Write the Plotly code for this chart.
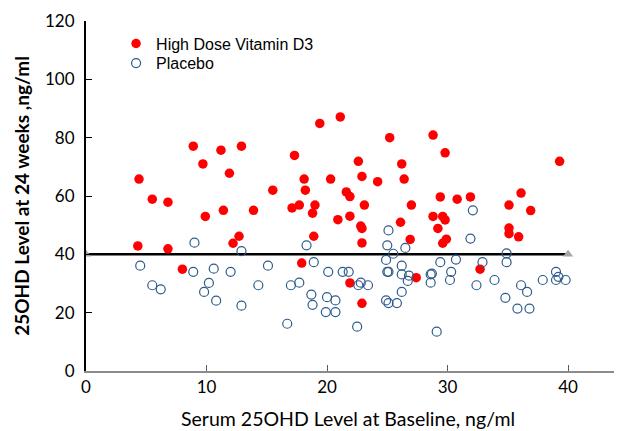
import plotly.graph_objects as go

# High Dose Vitamin D3 group: baseline (x) and 24-week (y) 25OHD levels
vd_x = [8.9, 11.2, 12.9, 9.7, 11.9, 4.4, 5.5, 6.8, 9.9, 11.4, 13.9, 12.7, 12.2, 4.3, 6.8, 8.0,
        19.4, 21.1, 25.2, 17.3, 22.6, 26.2, 18.1, 20.3, 22.9, 24.2, 26.4, 15.5, 18.2, 21.6, 21.9,
        17.1, 17.7, 19.0, 18.8, 23.1, 27.0, 20.9, 21.9, 22.8, 22.9, 26.1, 26.9, 18.9, 22.9, 17.9,
        21.9, 22.9, 28.8, 29.8, 39.3, 29.4, 30.8, 31.9, 35.1, 36.1, 36.9, 28.8, 29.6, 29.8, 29.2,
        35.1, 35.1, 35.9, 29.9, 29.6, 27.4, 32.7]
vd_y = [77.1, 75.7, 77.1, 71.0, 67.8, 65.8, 58.9, 57.9, 53.0, 55.1, 55.1, 46.2, 43.8, 42.9, 41.9, 34.9,
        84.9, 87.1, 80.0, 73.9, 71.9, 71.0, 65.8, 65.8, 66.7, 64.9, 65.8, 62.0, 62.0, 61.4, 59.8,
        55.9, 56.9, 56.9, 54.1, 56.9, 56.9, 51.9, 53.1, 49.7, 48.9, 51.0, 45.1, 46.2, 43.9, 37.0,
        30.2, 23.2, 80.9, 74.8, 71.9, 59.7, 58.9, 59.7, 56.9, 61.0, 55.0, 53.0, 53.0, 51.8, 48.9,
        49.0, 47.1, 46.0, 45.2, 43.8, 32.0, 34.9]

# Placebo group
pl_x = [9.0, 12.9, 4.5, 8.9, 10.6, 12.0, 5.5, 6.2, 10.2, 9.8, 10.8, 12.9,
        18.3, 25.1, 25.0, 25.5, 26.5, 15.1, 18.9, 20.1, 21.3, 21.8, 24.9, 25.0, 25.1, 26.2, 26.2,
        26.7, 14.3, 17.0, 17.7, 22.6, 22.8, 23.4, 18.7, 18.8, 20.0, 20.7, 19.9, 20.7, 26.2, 24.9,
        25.1, 25.8, 16.7, 22.5,
        32.1, 31.9, 34.9, 34.9, 29.4, 30.7, 32.9, 26.8, 28.6, 28.7, 28.6, 30.3, 30.2, 32.4, 33.9,
        37.9, 39.0, 39.2, 39.0, 39.8, 36.1, 36.6, 34.8, 35.8, 36.8, 29.1]
pl_y = [44.0, 41.1, 36.1, 34.0, 35.1, 34.0, 29.4, 28.0, 30.2, 27.1, 24.1, 22.4,
        43.1, 48.2, 43.1, 40.2, 42.2, 36.1, 37.3, 34.0, 34.0, 34.0, 38.1, 34.0, 34.0, 36.1, 33.1,
        30.9, 29.4, 29.4, 30.3, 29.4, 30.3, 29.4, 26.2, 22.7, 25.3, 24.2, 20.2, 20.2, 27.1, 24.2,
        23.3, 23.3, 16.2, 15.2,
        55.1, 45.4, 40.3, 37.3, 37.3, 38.2, 37.3, 32.7, 33.1, 33.4, 30.3, 34.0, 31.2, 29.4, 31.2,
        31.2, 34.0, 32.3, 31.2, 31.2, 29.4, 27.1, 25.1, 21.4, 21.4, 13.5]

# Reference line at 40 ng/ml
ref_x = [0, 40]
ref_y = [40, 40]

x_ticks = [0, 10, 20, 30, 40]
y_ticks = [0, 20, 40, 60, 80, 100, 120]

fig = go.Figure()

fig.add_trace(go.Scatter(
    x=ref_x, y=ref_y, mode="lines+markers", showlegend=False,
    line=dict(color="black", width=2.5),
    marker=dict(symbol="triangle-up", size=9, color="#A6A6A6"),
    hoverinfo="skip",
))

fig.add_trace(go.Scatter(
    x=vd_x, y=vd_y, mode="markers", name="High Dose Vitamin D3", legend="legend",
    marker=dict(symbol="circle", size=9.5, color="#FF0000", line=dict(width=0)),
))

fig.add_trace(go.Scatter(
    x=pl_x, y=pl_y, mode="markers", name="Placebo", legend="legend2",
    marker=dict(symbol="circle-open", size=9, color="#2E5B8C", line=dict(width=1.2)),
))

leg_font = dict(family="Liberation Sans", size=16, color="black")

fig.update_layout(
    width=615, height=424,
    margin=dict(l=78, r=0, t=13, b=61),
    paper_bgcolor="white", plot_bgcolor="white",
    font=dict(family="Lato", size=17, color="black"),
    legend=dict(
        x=0.056, y=0.984, xanchor="left", yanchor="top",
        bgcolor="rgba(0,0,0,0)", font=leg_font, itemwidth=30,
    ),
    legend2=dict(
        x=0.056, y=0.928, xanchor="left", yanchor="top",
        bgcolor="rgba(0,0,0,0)", font=leg_font, itemwidth=30,
    ),
    xaxis=dict(
        range=[0, 44.56], tickvals=x_ticks, ticktext=[str(v) for v in x_ticks],
        showgrid=False, zeroline=False,
        showline=True, linecolor="#8C8C8C", linewidth=2,
        ticks="inside", ticklen=6, tickcolor="#595959", tickwidth=1,
        tickfont=dict(family="Lato", size=17),
    ),
    yaxis=dict(
        range=[0, 120], tickvals=y_ticks, ticktext=[str(v) for v in y_ticks],
        showgrid=False, zeroline=False,
        showline=True, linecolor="black", linewidth=2,
        ticks="inside", ticklen=6, tickcolor="black", tickwidth=1,
        tickfont=dict(family="Lato", size=17),
        ticklabelstandoff=6,
        title=dict(text="<b>25OHD Level at 24 weeks ,ng/ml</b>",
                   font=dict(family="Lato", size=19), standoff=10),
    ),
    annotations=[dict(
        text="Serum 25OHD Level at Baseline, ng/ml",
        xref="paper", yref="paper", x=0.488, y=0, yshift=-47,
        xanchor="center", yanchor="middle", showarrow=False,
        font=dict(family="Lato", size=19.5, color="black"),
    )],
)

fig.write_html("out.html")
